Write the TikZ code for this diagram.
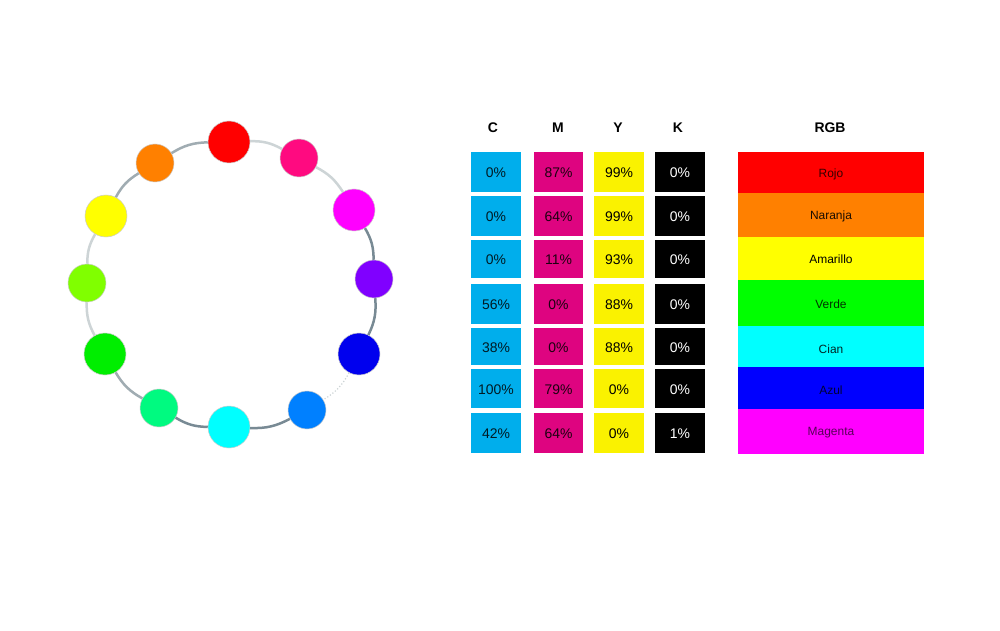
\documentclass[tikz,border=0pt]{standalone}
\usepackage{fontspec}
\setmainfont{Liberation Sans}
\definecolor{cC}{RGB}{0,174,236}
\definecolor{cM}{RGB}{222,4,128}
\definecolor{cY}{RGB}{250,242,0}
\definecolor{cK}{RGB}{0,0,0}
\definecolor{ringdark}{RGB}{120,138,148}
\definecolor{ringmid}{RGB}{160,172,178}
\definecolor{ringlight}{RGB}{205,212,214}
\definecolor{hRed}{RGB}{255,0,0}
\definecolor{hRose}{RGB}{255,10,128}
\definecolor{hMag}{RGB}{255,0,255}
\definecolor{hViol}{RGB}{128,0,255}
\definecolor{hBlue}{RGB}{0,0,238}
\definecolor{hAzure}{RGB}{0,128,255}
\definecolor{hCyan}{RGB}{0,255,255}
\definecolor{hSpring}{RGB}{0,250,128}
\definecolor{hGreen}{RGB}{0,238,0}
\definecolor{hChart}{RGB}{128,255,0}
\definecolor{hYel}{RGB}{255,255,0}
\definecolor{hOra}{RGB}{255,128,0}
\definecolor{bRed}{RGB}{255,0,0}
\definecolor{bOra}{RGB}{255,128,0}
\definecolor{bYel}{RGB}{255,255,0}
\definecolor{bGreen}{RGB}{0,255,0}
\definecolor{bCyan}{RGB}{0,255,255}
\definecolor{bBlue}{RGB}{0,0,255}
\definecolor{bMag}{RGB}{255,0,255}
\tikzset{
  big/.style={circle, minimum size=42bp, inner sep=0pt, draw=black!20, line width=0.5bp},
  small/.style={circle, minimum size=38bp, inner sep=0pt, draw=black!20, line width=0.5bp},
  ring/.style={line width=2.5bp},
  cell/.style={inner sep=0pt, minimum width=50bp, font=\fontsize{14}{16}\selectfont},
  head/.style={font=\fontsize{14}{16}\selectfont\bfseries},
  band/.style={inner sep=0pt, minimum width=186bp, font=\fontsize{12}{14}\selectfont},
  lbl/.style={font=\fontsize{12}{14}\selectfont}
}
\begin{document}
\begin{tikzpicture}[x=1bp,y=-1bp]
\useasboundingbox[fill=white] (0,0) rectangle (1000,631);
% colour wheel
\node[big,   fill=hRed]    (red)    at (229,142) {};
\node[small, fill=hRose]   (rose)   at (299,158) {};
\node[big,   fill=hMag]    (mag)    at (354,210) {};
\node[small, fill=hViol]   (viol)   at (374,279) {};
\node[big,   fill=hBlue]   (blue)   at (359,354) {};
\node[small, fill=hAzure]  (azure)  at (307,410) {};
\node[big,   fill=hCyan]   (cyan)   at (229,427) {};
\node[small, fill=hSpring] (spring) at (159,408) {};
\node[big,   fill=hGreen]  (green)  at (105,354) {};
\node[small, fill=hChart]  (chart)  at (87,283) {};
\node[big,   fill=hYel]    (yel)    at (106,216) {};
\node[small, fill=hOra]    (ora)    at (155,163) {};
\draw[ring, ringlight] (red) to[bend left=15] (rose);
\draw[ring, ringlight] (rose) to[bend left=15] (mag);
\draw[ring, ringdark]  (mag) to[bend left=15] (viol);
\draw[ring, ringdark]  (viol) to[bend left=15] (blue);
\draw[ring, ringlight, line width=1.2bp, dotted] (blue) to[bend left=15] (azure);
\draw[ring, ringdark]  (azure) to[bend left=15] (cyan);
\draw[ring, ringdark]  (cyan) to[bend left=15] (spring);
\draw[ring, ringmid]   (spring) to[bend left=15] (green);
\draw[ring, ringlight] (green) to[bend left=15] (chart);
\draw[ring, ringlight] (chart) to[bend left=15] (yel);
\draw[ring, ringmid]   (yel) to[bend left=15] (ora);
\draw[ring, ringmid]   (ora) to[bend left=15] (red);
% headers
\node[head] (hC) at (493,128) {C};
\node[head] (hM) at (558,128) {M};
\node[head] (hY) at (618,128) {Y};
\node[head] (hK) at (678,128) {K};
\node[head] (hRGB) at (830,128) {RGB};
% CMYK cells
\foreach \i/\yc/\h/\c/\m/\yy/\k in {
  1/172/40/0/87/99/0,
  2/216/40/0/64/99/0,
  3/259/38/0/11/93/0,
  4/304/40/56/0/88/0,
  5/346.5/37/38/0/88/0,
  6/388.5/39/100/79/0/0,
  7/433/40/42/64/0/1}{
  \node[cell, minimum height=\h bp, fill=cC] (c\i) at (496,\yc) {};
  \node[cell, minimum width=49bp, minimum height=\h bp, fill=cM] (m\i) at (558.5,\yc) {};
  \node[cell, minimum height=\h bp, fill=cY] (y\i) at (619,\yc) {};
  \node[cell, minimum height=\h bp, fill=cK] (k\i) at (680,\yc) {};
  \node[cell, text=black!85!cC] at ([yshift=-1bp]c\i.center) {\c\%};
  \node[cell, text=black!88!cM] at ([yshift=-1bp]m\i.center) {\m\%};
  \node[cell, text=black] at ([yshift=-1bp]y\i.center) {\yy\%};
  \node[cell, text=white] at ([yshift=-1bp]k\i.center) {\k\%};
}
% RGB bands
\node[band, minimum height=41bp, fill=bRed]   (rojo) at (831,172.5) {};
\node[band, minimum height=44bp, fill=bOra]   (naranja) at (831,215) {};
\node[band, minimum height=43bp, fill=bYel]   (amarillo) at (831,258.5) {};
\node[band, minimum height=46bp, fill=bGreen] (verde) at (831,303) {};
\node[band, minimum height=41bp, fill=bCyan]  (cian) at (831,346.5) {};
\node[band, minimum height=42bp, fill=bBlue]  (azul) at (831,388) {};
\node[band, minimum height=45bp, fill=bMag]   (magenta) at (831,431.5) {};
\node[lbl, text=black!80!bRed]   at ([yshift=-1.5bp]rojo.center) {Rojo};
\node[lbl, text=black!90!bOra]   at ([yshift=-1.5bp]naranja.center) {Naranja};
\node[lbl, text=black]           at ([yshift=-1bp]amarillo.center) {Amarillo};
\node[lbl, text=black!80!bGreen] at ([yshift=-1.5bp]verde.center) {Verde};
\node[lbl, text=black!85!bCyan]  at ([yshift=-3bp]cian.center) {Cian};
\node[lbl, text=black!80!bBlue]  at ([yshift=-2bp]azul.center) {Azul};
\node[lbl, text=black!65!bMag]   at ([yshift=-1bp]magenta.center) {Magenta};
\end{tikzpicture}
\end{document}
